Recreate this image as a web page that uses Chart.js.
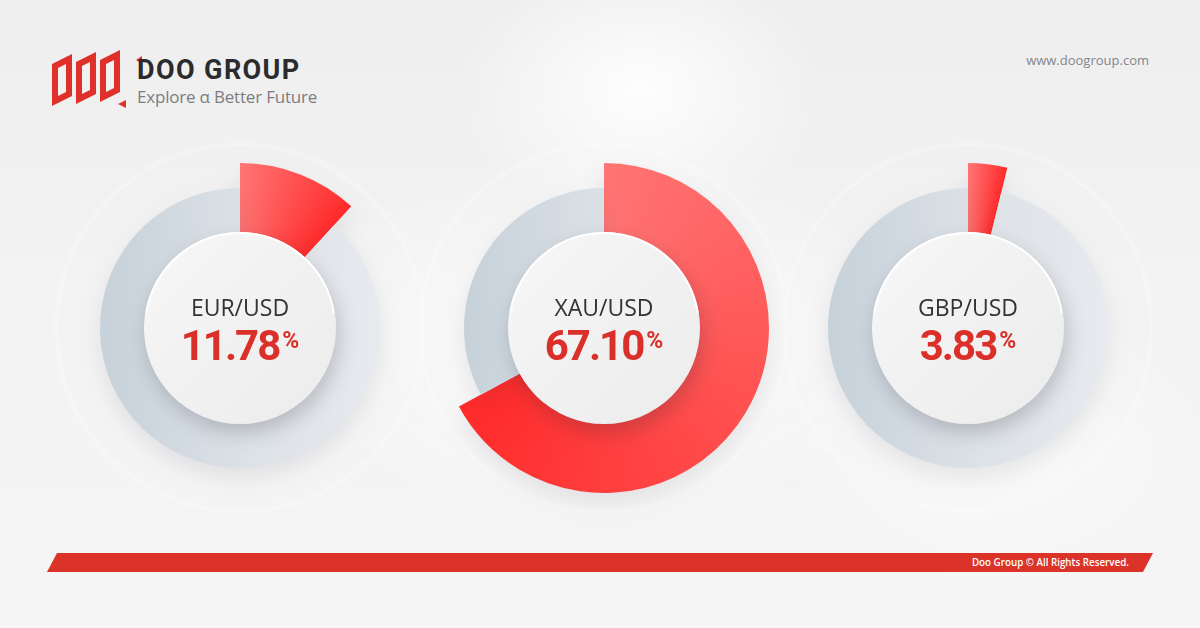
<!DOCTYPE html>
<html>
<head>
<meta charset="utf-8">
<script src="https://cdn.jsdelivr.net/npm/chart.js@4/dist/chart.umd.min.js"></script>
<style>
  html,body{margin:0;padding:0;}
  body{width:1200px;height:628px;overflow:hidden;position:relative;
    background:
      radial-gradient(ellipse 260px 200px at 640px 90px, rgba(255,255,255,0.9), rgba(255,255,255,0) 70%),
      radial-gradient(ellipse 420px 260px at 600px 340px, rgba(255,255,255,0.7), rgba(255,255,255,0) 75%),
      radial-gradient(ellipse 300px 200px at 1000px 450px, rgba(255,255,255,0.5), rgba(255,255,255,0) 75%),
      linear-gradient(180deg,#eeeeef 0%,#f3f3f4 45%,#f5f5f6 100%);
    font-family:"Open Sans",sans-serif;}
  .wrap{position:absolute;width:400px;height:400px;}
  .wrap canvas{position:absolute;left:0;top:0;}
  .halo{position:absolute;left:18px;top:18px;width:364px;height:364px;border-radius:50%;
    box-shadow:0 0 6px 2px rgba(255,255,255,0.45);}
  .name{position:absolute;left:0;width:400px;text-align:center;top:163px;
    font-family:"Open Sans",sans-serif;font-size:23px;color:#333;line-height:32px;}
  .val{position:absolute;left:0;width:400px;text-align:center;top:190px;
    font-family:Roboto,sans-serif;font-weight:700;font-size:42px;color:#db2f2a;line-height:56px;letter-spacing:-2px;}
  .val span{font-size:23px;vertical-align:top;position:relative;top:-5px;letter-spacing:0;margin-left:3px;}
  .brand{position:absolute;left:137px;top:54px;font-family:Roboto,sans-serif;font-weight:700;font-size:27px;color:#2b2b2e;letter-spacing:1.4px;}
  .tag{position:absolute;left:137px;top:85px;font-family:"Open Sans",sans-serif;font-size:17px;color:#7d7d80;letter-spacing:-0.2px;}
  .url{position:absolute;right:51px;top:51px;font-family:"Open Sans",sans-serif;font-size:13px;color:#85858a;}
  .bar{position:absolute;left:47px;top:553px;width:1106px;height:19px;background:#dc3328;
    clip-path:polygon(10px 0,1106px 0,1096px 19px,0 19px);}
  .foot{position:absolute;right:71px;top:556px;font-family:"Open Sans",sans-serif;font-weight:600;font-size:9.8px;color:#fff;}
</style>
</head>
<body>
<svg style="position:absolute;left:48px;top:50px" width="96" height="62" viewBox="0 0 96 62">
  <g fill="#e0302a">
    <polygon points="4,14 24,4 24,46 4,56" />
    <polygon points="28,12 48,2 48,44 28,54" />
    <polygon points="52,10 72,0 72,42 52,52" />
  </g>
  <g fill="#f1f1f2">
    <polygon points="10,18 18,14 18,42 10,46" />
    <polygon points="34,16 42,12 42,40 34,44" />
    <polygon points="58,14 66,10 66,38 58,42" />
  </g>
  <polygon points="70,54 78,50 78,58" fill="#e0302a"/>
  <polygon points="88,10 94,6 94,14" fill="#e0302a"/>
</svg>
<div class="brand">DOO GROUP</div>
<div class="tag">Explore α Better Future</div>
<div class="url">www.doogroup.com</div>

<div id="charts"></div>

<div class="bar"></div>
<div class="foot">Doo Group © All Rights Reserved.</div>

<script>
// ---- data ----
const pairs = ['EUR/USD', 'XAU/USD', 'GBP/USD'];
const shares = [11.78, 67.10, 3.83];
const shareLabels = ['11.78', '67.10', '3.83'];

// ---- layout / style ----
const centersX = [240, 604, 968];
const centerY = 328;
const SIZE = 400;
const RED_R = 165, GRAY_R = 140, HOLE_R = 95, DISC_R = 96;

const ringPlugin = {
  id: 'ringSizes',
  afterDatasetsUpdate(chart) {
    const meta = chart.getDatasetMeta(0);
    if (meta.data[1]) meta.data[1].outerRadius = GRAY_R;
  },
  beforeDatasetsDraw(chart) {
    const ctx = chart.ctx;
    ctx.save();
    ctx.shadowColor = 'rgba(60,60,70,0.10)';
    ctx.shadowBlur = 22;
    ctx.shadowOffsetY = 10;
  },
  afterDatasetsDraw(chart) {
    const ctx = chart.ctx;
    ctx.restore();
    const a = chart.chartArea;
    const cx = (a.left + a.right) / 2, cy = (a.top + a.bottom) / 2;
    ctx.save();
    ctx.shadowColor = 'rgba(40,40,50,0.22)';
    ctx.shadowBlur = 20;
    ctx.shadowOffsetX = 3;
    ctx.shadowOffsetY = 9;
    const g = ctx.createLinearGradient(cx - DISC_R, cy - DISC_R, cx + DISC_R, cy + DISC_R);
    g.addColorStop(0, '#f7f7f8');
    g.addColorStop(0.5, '#f1f1f2');
    g.addColorStop(1, '#ececed');
    ctx.beginPath();
    ctx.arc(cx, cy, DISC_R, 0, Math.PI * 2);
    ctx.fillStyle = g;
    ctx.fill();
    ctx.restore();
    ctx.save();
    ctx.beginPath();
    ctx.arc(cx, cy, DISC_R - 1, Math.PI * 1.05, Math.PI * 1.95);
    ctx.strokeStyle = 'rgba(255,255,255,0.95)';
    ctx.lineWidth = 2;
    ctx.stroke();
    ctx.restore();
  }
};

const host = document.getElementById('charts');
pairs.forEach((pair, i) => {
  const wrap = document.createElement('div');
  wrap.className = 'wrap';
  wrap.style.left = (centersX[i] - SIZE / 2) + 'px';
  wrap.style.top = (centerY - SIZE / 2) + 'px';
  const halo = document.createElement('div');
  halo.className = 'halo';
  wrap.appendChild(halo);
  const cv = document.createElement('canvas');
  cv.width = SIZE; cv.height = SIZE;
  cv.style.width = SIZE + 'px'; cv.style.height = SIZE + 'px';
  wrap.appendChild(cv);
  const nm = document.createElement('div');
  nm.className = 'name'; nm.textContent = pair;
  wrap.appendChild(nm);
  const vl = document.createElement('div');
  vl.className = 'val';
  vl.innerHTML = shareLabels[i] + '<span>%</span>';
  wrap.appendChild(vl);
  host.appendChild(wrap);

  const ctx = cv.getContext('2d');
  const c = SIZE / 2;
  const red = ctx.createConicGradient(-Math.PI / 2, c, c);
  const frac = shares[i] / 100;
  red.addColorStop(0, '#ff7474');
  red.addColorStop(Math.max(frac * 0.5, 0.001), '#ff5050');
  red.addColorStop(frac, '#ff2a2a');
  red.addColorStop(1, '#ff2a2a');
  const gray = ctx.createLinearGradient(c - GRAY_R, 0, c + GRAY_R, 0);
  gray.addColorStop(0, '#c6d1da');
  gray.addColorStop(0.55, '#dde2e7');
  gray.addColorStop(1, '#e7eaee');

  new Chart(cv, {
    type: 'doughnut',
    data: {
      labels: [pair, 'Other'],
      datasets: [{
        data: [shares[i], 100 - shares[i]],
        backgroundColor: [red, gray],
        borderWidth: 0
      }]
    },
    options: {
      responsive: false,
      animation: false,
      events: [],
      radius: RED_R,
      cutout: HOLE_R,
      rotation: 0,
      layout: { padding: 0 },
      plugins: { legend: { display: false }, tooltip: { enabled: false } }
    },
    plugins: [ringPlugin]
  });
});
</script>
</body>
</html>
